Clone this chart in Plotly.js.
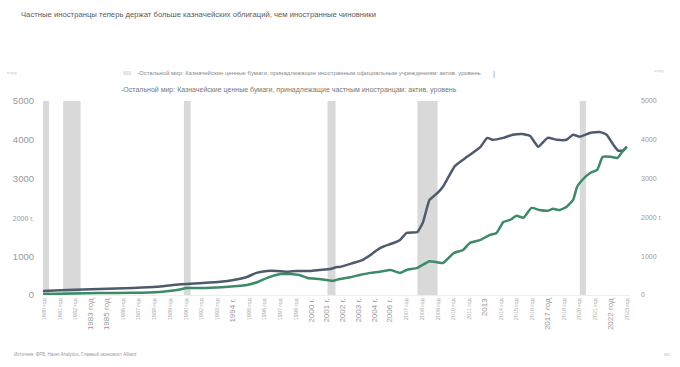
<!DOCTYPE html>
<html><head><meta charset="utf-8">
<script src="https://cdn.plot.ly/plotly-3.0.1.min.js"></script>
<style>body{margin:0;padding:0;background:#fff}#chart{width:680px;height:367px}</style>
</head><body><div id="chart"></div>
<script>
// Official foreign holders (dark line)
const officialYears = [1980.0,1981.8,1984.2,1986.7,1988.5,1989.7,1990.7,1991.9,1993.2,1994.2,1995.2,1995.9,1996.7,1997.4,1998.2,1998.9,1999.9,2000.6,2001.4,2001.9,2002.1,2003.1,2003.8,2004.4,2004.9,2005.3,2006.1,2006.6,2007.1,2007.9,2008.3,2008.8,2009.4,2009.8,2010.1,2010.7,2011.6,2012.6,2013.1,2013.5,2014.3,2015.0,2015.7,2016.3,2016.9,2017.6,2018.3,2019.0,2019.5,2020.0,2020.8,2021.5,2022.0,2022.5,2022.85,2023.2,2023.5];
const officialValues = [100,130,155,180,210,260,285,310,340,385,465,570,620,620,600,620,620,645,670,720,720,825,900,1030,1160,1240,1340,1420,1600,1625,1860,2450,2630,2790,2970,3330,3560,3820,4050,4000,4050,4130,4150,4100,3820,4050,4000,4000,4130,4080,4180,4200,4130,3870,3720,3720,3820];
// Private foreign holders (green line)
const privateYears = [1980.0,1984.2,1986.7,1988.7,1990.0,1990.7,1992.1,1994.5,1995.2,1996.0,1996.7,1997.7,1998.4,1999.1,1999.7,2000.6,2001.6,2002.1,2002.9,2003.6,2004.4,2005.1,2005.9,2006.6,2007.1,2007.9,2008.8,2009.8,2010.6,2011.3,2011.8,2012.6,2013.3,2013.8,2014.3,2014.8,2015.3,2015.8,2016.4,2017.0,2017.6,2018.0,2018.5,2019.0,2019.5,2019.8,2020.2,2020.8,2021.3,2021.7,2022.3,2022.8,2023.1,2023.5];
const privateValues = [25,50,55,80,130,180,180,230,260,335,440,540,540,515,440,410,365,410,460,515,570,600,645,570,645,700,870,825,1080,1160,1340,1420,1550,1600,1880,1935,2040,1990,2245,2190,2170,2220,2190,2270,2450,2790,2970,3150,3225,3560,3560,3530,3660,3820];
// Recessions
const recStart = [1980.0,1981.5,1990.5,2001.2,2007.9,2020.0];
const recEnd   = [1980.45,1982.8,1991.0,2001.8,2009.4,2020.45];
// Tick labels
const xTickLabels = ["1980 год","1981 год","1982 год","1983 год","1985 год","1986 год","1987 год","1988 год","1989 год","1990 год","1992 год","1993 год","1994 г.","1995 год","1996 год","1997 год","1999 год","2000 г.","2001 г.","2002 г.","2003 г.","2004 г.","2006 г.","2007 год","2008 год","2009 год","2010 год","2011 год","2013","2014 год","2015 год","2016 год","2017 год","2018 год","2020 год","2021 год","2022 год","2023 год"];
const bigLabels = ["1983 год","1985 год","1994 г.","2000 г.","2001 г.","2002 г.","2003 г.","2004 г.","2006 г.","2013","2017 год","2022 год"];
const yTickVals = [0,1000,2000,3000,4000,5000];
const yLeftLabels = ["0","1000","2000 г.","3000","4000","5000"];
const yRightLabels = ["0","1000","2000 г.","3000","4000","5000"];
const seriesNames = ["-Остальной мир: Казначейские ценные бумаги, принадлежащие иностранным официальным учреждениям: актив, уровень","-Остальной мир: Казначейские ценные бумаги, принадлежащие частным иностранцам: актив, уровень"];

const tickvals = xTickLabels.map((_, i) => 1980.07 + i * (43.43 / (xTickLabels.length - 1)));
const ticktext = xTickLabels.map(t => bigLabels.includes(t)
  ? '<span style="font-size:8px;fill:#999">' + t + '</span>'
  : '<span style="font-size:5.5px;fill:#aaa">' + t + '</span>');
const leftText = yLeftLabels.map(t => t.includes('г.') ? '<span style="font-size:7px">' + t + '</span>' : t);

const shapes = recStart.map((s, i) => ({type:'rect', xref:'x', yref:'paper', x0:s, x1:recEnd[i], y0:0, y1:1,
  fillcolor:'#d9d9d9', line:{width:0}, layer:'below'}));

const traces = [
  {x: officialYears, y: officialValues, type:'scatter', mode:'lines', name: seriesNames[0],
   line:{color:'#4d5b6d', width:2.5, shape:'spline', smoothing:0.4}},
  {x: privateYears, y: privateValues, type:'scatter', mode:'lines', name: seriesNames[1],
   line:{color:'#3d8a69', width:2.5, shape:'spline', smoothing:0.4}},
  {x:[2000], y:[0], yaxis:'y2', mode:'markers', marker:{opacity:0}, showlegend:false, hoverinfo:'skip'}
];

const layout = {
  width:680, height:367,
  margin:{l:43, r:50, t:101, b:72},
  paper_bgcolor:'#fff', plot_bgcolor:'#fff',
  font:{family:'Liberation Sans, Arial, sans-serif', color:'#888'},
  showlegend:false,
  shapes: shapes,
  xaxis:{range:[1980,2023.74], tickvals:tickvals, ticktext:ticktext, tickangle:-90,
    showgrid:false, zeroline:false, showline:true, linecolor:'#eeeeee', linewidth:1,
    ticks:'', tickfont:{size:6, color:'#aaa'}},
  yaxis:{range:[0,5000], tickvals:yTickVals, ticktext:leftText, showgrid:false, zeroline:false,
    ticks:'', tickfont:{size:9.5, color:'#999'}, ticklabelstandoff:8},
  yaxis2:{range:[0,5000], overlaying:'y', side:'right', tickvals:yTickVals, ticktext:yRightLabels,
    showgrid:false, zeroline:false, ticks:'', tickfont:{size:7, color:'#999'}, ticklabelstandoff:10},
  annotations:[
    {text:'Частные иностранцы теперь держат больше казначейских облигаций, чем иностранные чиновники',
     xref:'paper', yref:'paper', x:-43/587+19/587, y:1+ (101-14)/194, xanchor:'left', yanchor:'middle',
     showarrow:false, font:{size:7.7, color:'#5a5a5a'}},
    {text:seriesNames[0], xref:'paper', yref:'paper', x:(135-43)/587, y:1+(101-73)/194,
     xanchor:'left', yanchor:'middle', showarrow:false, font:{size:6.0, color:'#888'}},
    {text:'|', xref:'paper', yref:'paper', x:(494-43)/587, y:1+(101-73)/194,
     xanchor:'center', yanchor:'middle', showarrow:false, font:{size:8, color:'#999'}},
    {text:seriesNames[1], xref:'paper', yref:'paper', x:(119-43)/587, y:1+(101-90)/194,
     xanchor:'left', yanchor:'middle', showarrow:false, font:{size:7, color:'#777'}},
    {text:'Источник: ФРБ, Haver Analytics, Главный экономист Allianz', xref:'paper', yref:'paper',
     x:(12-43)/587, y:-(354-295)/194, xanchor:'left', yanchor:'middle', showarrow:false,
     font:{size:4.5, color:'#999'}},
    {text:'млрд', xref:'paper', yref:'paper', x:(5-43)/587, y:1+(101-72)/194, xanchor:'left', yanchor:'middle',
     showarrow:false, font:{size:4, color:'#ccc'}},
    {text:'млрд', xref:'paper', yref:'paper', x:(652-43)/587, y:1+(101-70)/194, xanchor:'left', yanchor:'middle',
     showarrow:false, font:{size:4, color:'#ccc'}},
    {text:'МО', xref:'paper', yref:'paper', x:(662-43)/587, y:-(354-295)/194, xanchor:'left', yanchor:'middle',
     showarrow:false, font:{size:4, color:'#bbb'}}
  ]
};
layout.shapes.push({type:'rect', xref:'paper', yref:'paper', x0:(123-43)/587, x1:(131-43)/587,
  y0:1+(99-73)/194, y1:1+(103-73)/194, fillcolor:'#e6e6e6', line:{width:0}});
Plotly.newPlot('chart', traces, layout, {displayModeBar:false, staticPlot:true});
</script></body></html>
